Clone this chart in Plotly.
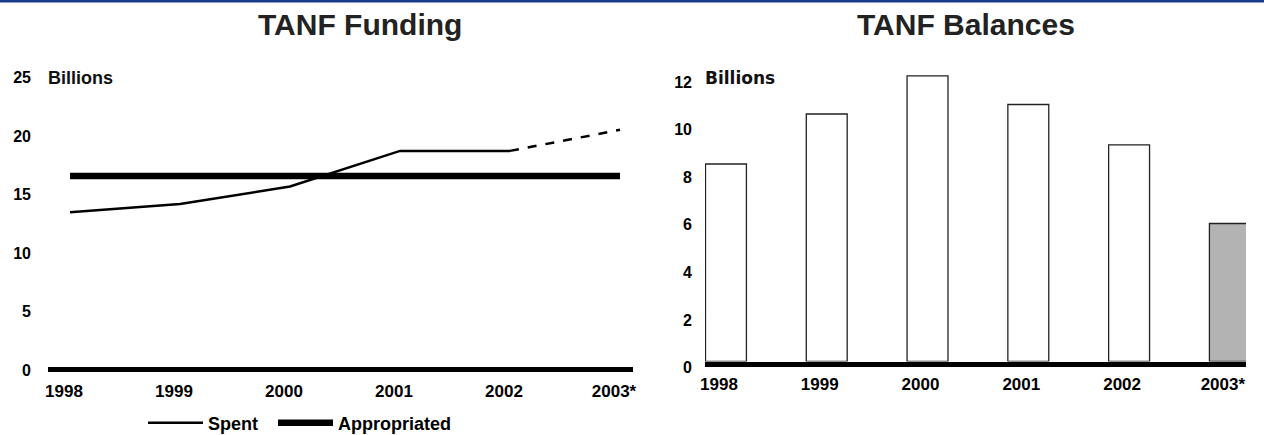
import plotly.graph_objects as go

# ---- data ----
years = ["1998", "1999", "2000", "2001", "2002", "2003*"]
spent = [13.5, 14.2, 15.7, 18.75, 18.75, 20.55]          # 2003 is projected
appropriated = [16.6, 16.6, 16.6, 16.6, 16.6, 16.6]
balances = [8.3, 10.4, 12.0, 10.8, 9.1, 5.8]
left_yticks = [0, 5, 10, 15, 20, 25]
right_yticks = [0, 2, 4, 6, 8, 10, 12]

# ---- styles ----
bar_fills = ["white", "white", "white", "white", "white", "#b3b3b3"]
FONT = "Liberation Sans, Arial, sans-serif"
W, H = 1264, 435


def px_x(p):
    return p / W


def px_y(p):
    return 1 - p / H


fig = go.Figure()

fig.add_trace(go.Scatter(
    x=years[:5], y=spent[:5], mode="lines", name="Spent\u00a0\u00a0",
    line=dict(color="black", width=2.5), xaxis="x", yaxis="y"))
fig.add_trace(go.Scatter(
    x=years[4:], y=spent[4:], mode="lines", showlegend=False,
    line=dict(color="black", width=2.5, dash="dash"), xaxis="x", yaxis="y"))
fig.add_trace(go.Scatter(
    x=years, y=appropriated, mode="lines", name="Appropriated",
    line=dict(color="black", width=6.5), xaxis="x", yaxis="y"))

fig.add_trace(go.Bar(
    x=years, y=balances, width=0.406, showlegend=False,
    marker=dict(color=bar_fills, line=dict(color="#222222", width=1.3)),
    xaxis="x2", yaxis="y2"))

tickfont = dict(family=FONT, size=17, color="black", weight="bold")

fig.update_layout(
    width=W, height=H,
    margin=dict(l=0, r=0, t=0, b=0, autoexpand=False),
    paper_bgcolor="white", plot_bgcolor="rgba(0,0,0,0)",
    font=dict(family=FONT, color="black"),
    xaxis=dict(domain=[px_x(48), px_x(633)], type="category",
               range=[-0.2, 5.118], showgrid=False, showline=False,
               zeroline=False, ticks="", tickfont=tickfont,
               ticklabelshift=-6, ticklabelstandoff=4, fixedrange=True),
    yaxis=dict(domain=[px_y(375), px_y(72)], range=[-0.43, 25.5],
               tickvals=left_yticks, showgrid=False, showline=False,
               zeroline=True, zerolinecolor="black", zerolinewidth=4.5,
               ticks="", tickfont=dict(family=FONT, size=16, color="black", weight="bold"),
               ticklabelstandoff=16, fixedrange=True),
    xaxis2=dict(domain=[px_x(705), px_x(1246)], type="category",
                range=[-0.208, 5.16], showgrid=False,
                showline=True, linecolor="black", linewidth=5,
                zeroline=False, ticks="", tickfont=tickfont,
                ticklabelshift=-7, ticklabelstandoff=3, fixedrange=True,
                anchor="y2"),
    yaxis2=dict(domain=[px_y(361.5), px_y(60)], range=[0, 12.67],
                tickvals=right_yticks, showgrid=False, showline=False,
                zeroline=False,
                ticks="", tickfont=dict(family=FONT, size=16, color="black", weight="bold"),
                ticklabelstandoff=12, ticklabelshift=6,
                anchor="x2", fixedrange=True),
    legend=dict(orientation="h", x=px_x(143), y=px_y(423),
                xanchor="left", yanchor="middle",
                font=dict(family=FONT, size=18, color="black", weight="bold"),
                bgcolor="rgba(0,0,0,0)", itemwidth=55),
    showlegend=True,
    shapes=[dict(type="rect", xref="paper", yref="paper",
                 x0=0, x1=1, y0=px_y(2.5), y1=1,
                 fillcolor="#1a3a8c", line=dict(width=0))],
    annotations=[
        dict(text="<b>TANF Funding</b>", x=px_x(360), y=px_y(24),
             xref="paper", yref="paper", xanchor="center", yanchor="middle",
             showarrow=False, font=dict(family=FONT, size=30, color="#222222")),
        dict(text="<b>TANF Balances</b>", x=px_x(966), y=px_y(24),
             xref="paper", yref="paper", xanchor="center", yanchor="middle",
             showarrow=False, font=dict(family=FONT, size=30, color="#222222")),
        dict(text="<b>Billions</b>", x=px_x(46), y=px_y(78),
             xref="paper", yref="paper", xanchor="left", yanchor="middle",
             showarrow=False, font=dict(family=FONT, size=18, color="#111111")),
        dict(text="<b>Billions</b>", x=px_x(703), y=px_y(78),
             xref="paper", yref="paper", xanchor="left", yanchor="middle",
             showarrow=False, font=dict(family="DejaVu Sans", size=17, color="#111111")),
    ],
)

fig.write_html("out.html", config={"displayModeBar": False},
               post_script="document.body.style.margin='0';")
